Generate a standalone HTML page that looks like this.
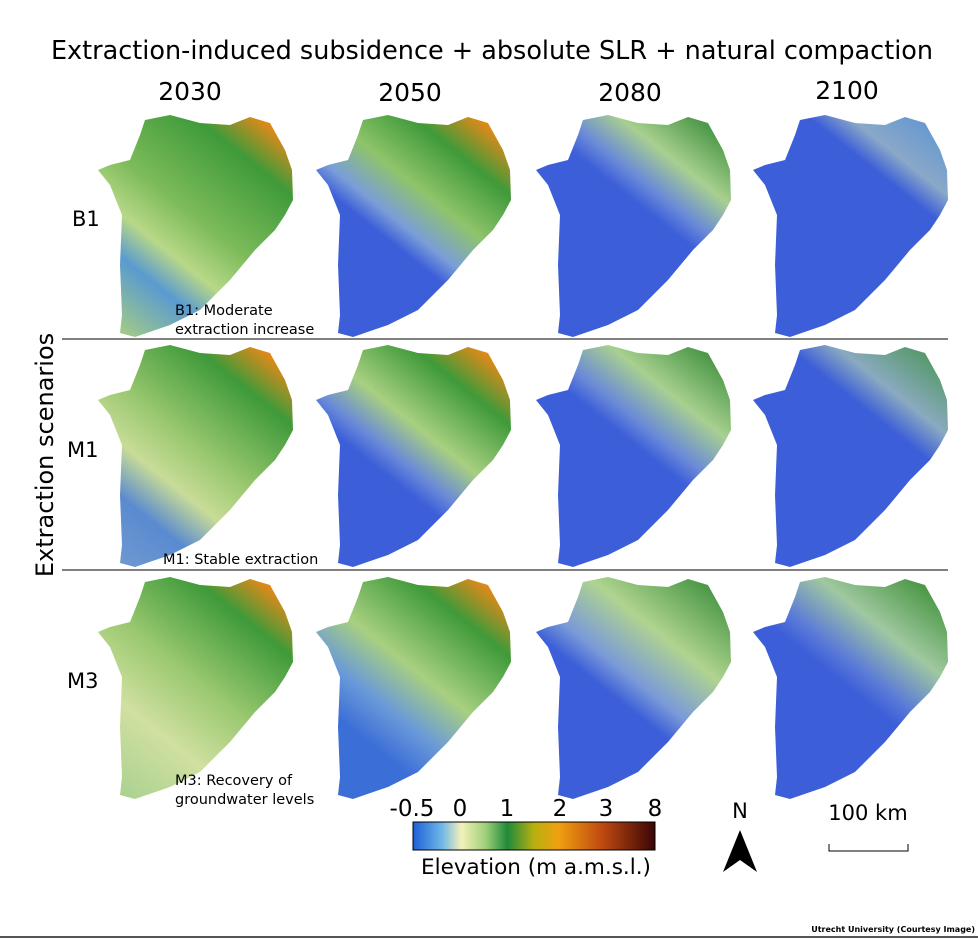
<!DOCTYPE html>
<html><head><meta charset="utf-8"><style>
body{margin:0;background:#fff;}
svg{display:block;font-family:"DejaVu Sans","Liberation Sans",sans-serif;}
</style></head><body>
<svg width="978" height="939" viewBox="0 0 978 939" xmlns="http://www.w3.org/2000/svg">
<defs>
<path id="d" d="M55,5 L80,0 L110,8 L140,10 L160,2 L180,8 L195,35 L202,55 L203,85 L195,100 L185,115 L165,135 L140,165 L110,195 L80,210 L45,222 L30,218 L32,200 L30,150 L32,100 L20,70 L8,55 L20,50 L40,45 L50,20 Z"/>
<linearGradient id="cb" x1="0" x2="1">
<stop offset="0" stop-color="#1f5fd8"/><stop offset="0.12" stop-color="#6fb6e8"/><stop offset="0.2" stop-color="#f3f1b8"/><stop offset="0.3" stop-color="#9fcf7a"/><stop offset="0.39" stop-color="#1f8a3a"/><stop offset="0.5" stop-color="#b8b010"/><stop offset="0.6" stop-color="#f0a010"/><stop offset="0.78" stop-color="#c04a10"/><stop offset="1" stop-color="#3a0505"/>
</linearGradient>
<linearGradient id="g1" x1="0.8" y1="0" x2="0.1" y2="1"><stop offset="0" stop-color="#d98a1a"/><stop offset="0.15" stop-color="#3f9a3a"/><stop offset="0.45" stop-color="#7dbb5a"/><stop offset="0.62" stop-color="#b8d888"/><stop offset="0.75" stop-color="#5a9ad0"/><stop offset="1" stop-color="#a8cf80"/></linearGradient>
<linearGradient id="g2" x1="0.8" y1="0" x2="0.1" y2="1"><stop offset="0" stop-color="#d98a1a"/><stop offset="0.15" stop-color="#3f9a3a"/><stop offset="0.35" stop-color="#8fc46a"/><stop offset="0.5" stop-color="#7a9ed8"/><stop offset="0.58" stop-color="#3c5ed8"/><stop offset="1" stop-color="#3c5ed8"/></linearGradient>
<linearGradient id="g3" x1="0.8" y1="0" x2="0.1" y2="1"><stop offset="0" stop-color="#4f9a4a"/><stop offset="0.18" stop-color="#a8d090"/><stop offset="0.32" stop-color="#6a8ad8"/><stop offset="0.4" stop-color="#3c5ed8"/><stop offset="1" stop-color="#3c5ed8"/></linearGradient>
<linearGradient id="g4" x1="0.8" y1="0" x2="0.1" y2="1"><stop offset="0" stop-color="#6a9ad0"/><stop offset="0.15" stop-color="#8aa8c8"/><stop offset="0.25" stop-color="#3c5ed8"/><stop offset="1" stop-color="#3c5ed8"/></linearGradient>
<linearGradient id="g5" x1="0.8" y1="0" x2="0.1" y2="1"><stop offset="0" stop-color="#d98a1a"/><stop offset="0.15" stop-color="#3f9a3a"/><stop offset="0.45" stop-color="#9ac870"/><stop offset="0.62" stop-color="#c8dc98"/><stop offset="0.78" stop-color="#5a8ad0"/><stop offset="1" stop-color="#6f9ad0"/></linearGradient>
<linearGradient id="g6" x1="0.8" y1="0" x2="0.1" y2="1"><stop offset="0" stop-color="#d98a1a"/><stop offset="0.15" stop-color="#3f9a3a"/><stop offset="0.38" stop-color="#a8d080"/><stop offset="0.52" stop-color="#6a8ad8"/><stop offset="0.6" stop-color="#3c5ed8"/><stop offset="1" stop-color="#3c5ed8"/></linearGradient>
<linearGradient id="g7" x1="0.8" y1="0" x2="0.1" y2="1"><stop offset="0" stop-color="#4f9a4a"/><stop offset="0.2" stop-color="#a8d090"/><stop offset="0.36" stop-color="#6a8ad8"/><stop offset="0.44" stop-color="#3c5ed8"/><stop offset="1" stop-color="#3c5ed8"/></linearGradient>
<linearGradient id="g8" x1="0.8" y1="0" x2="0.1" y2="1"><stop offset="0" stop-color="#5a9a70"/><stop offset="0.18" stop-color="#8aaac0"/><stop offset="0.3" stop-color="#3c5ed8"/><stop offset="1" stop-color="#3c5ed8"/></linearGradient>
<linearGradient id="g9" x1="0.8" y1="0" x2="0.1" y2="1"><stop offset="0" stop-color="#d98a1a"/><stop offset="0.15" stop-color="#3f9a3a"/><stop offset="0.45" stop-color="#9ac870"/><stop offset="0.7" stop-color="#d0e0a0"/><stop offset="1" stop-color="#a8d090"/></linearGradient>
<linearGradient id="g10" x1="0.8" y1="0" x2="0.1" y2="1"><stop offset="0" stop-color="#d98a1a"/><stop offset="0.15" stop-color="#3f9a3a"/><stop offset="0.42" stop-color="#a8d080"/><stop offset="0.6" stop-color="#6a9ad8"/><stop offset="0.75" stop-color="#3c6ed8"/><stop offset="1" stop-color="#3c6ed8"/></linearGradient>
<linearGradient id="g11" x1="0.8" y1="0" x2="0.1" y2="1"><stop offset="0" stop-color="#4f9a4a"/><stop offset="0.25" stop-color="#b0d490"/><stop offset="0.45" stop-color="#7a9ad8"/><stop offset="0.55" stop-color="#3c5ed8"/><stop offset="1" stop-color="#3c5ed8"/></linearGradient>
<linearGradient id="g12" x1="0.8" y1="0" x2="0.1" y2="1"><stop offset="0" stop-color="#4f9a4a"/><stop offset="0.22" stop-color="#a0c8a0"/><stop offset="0.4" stop-color="#5a7ad8"/><stop offset="0.48" stop-color="#3c5ed8"/><stop offset="1" stop-color="#3c5ed8"/></linearGradient>
</defs>
<text x="492" y="59" font-size="25.5" text-anchor="middle">Extraction-induced subsidence + absolute SLR + natural compaction</text>
<g font-size="25" text-anchor="middle"><text x="190" y="100">2030</text><text x="410" y="101">2050</text><text x="630" y="101">2080</text><text x="847" y="99">2100</text></g>
<g font-size="21"><text x="72" y="226">B1</text><text x="67" y="457">M1</text><text x="67" y="688">M3</text></g>
<text transform="translate(53,455) rotate(-90)" font-size="24" text-anchor="middle">Extraction scenarios</text>
<line x1="62" y1="339" x2="948" y2="339" stroke="#000" stroke-width="1"/>
<line x1="62" y1="570" x2="948" y2="570" stroke="#000" stroke-width="1"/>
<g>
<use href="#d" x="90" y="115" fill="url(#g1)"/><use href="#d" x="308" y="115" fill="url(#g2)"/><use href="#d" x="528" y="115" fill="url(#g3)"/><use href="#d" x="745" y="115" fill="url(#g4)"/>
<use href="#d" x="90" y="345" fill="url(#g5)"/><use href="#d" x="308" y="345" fill="url(#g6)"/><use href="#d" x="528" y="345" fill="url(#g7)"/><use href="#d" x="745" y="345" fill="url(#g8)"/>
<use href="#d" x="90" y="577" fill="url(#g9)"/><use href="#d" x="308" y="577" fill="url(#g10)"/><use href="#d" x="528" y="577" fill="url(#g11)"/><use href="#d" x="745" y="577" fill="url(#g12)"/>
</g>
<g font-size="14.5"><text x="175" y="315">B1: Moderate</text><text x="175" y="334">extraction increase</text><text x="163" y="564">M1: Stable extraction</text><text x="175" y="785">M3: Recovery of</text><text x="175" y="804">groundwater levels</text></g>
<rect x="413" y="822" width="242" height="28" fill="url(#cb)" stroke="#000" stroke-width="1"/>
<g font-size="23" text-anchor="middle"><text x="412" y="816">-0.5</text><text x="460" y="816">0</text><text x="507" y="816">1</text><text x="560" y="816">2</text><text x="606" y="816">3</text><text x="655" y="816">8</text></g>
<text x="536" y="874" font-size="21.5" text-anchor="middle">Elevation (m a.m.s.l.)</text>
<text x="740" y="818" font-size="21" text-anchor="middle">N</text>
<polygon points="740,830 723,872 740,860 757,872" fill="#000"/>
<text x="868" y="820" font-size="21" text-anchor="middle">100 km</text>
<path d="M829,844 V851 H908 V844" fill="none" stroke="#000" stroke-width="1"/>
<text x="975" y="932" font-size="8" font-weight="bold" text-anchor="end">Utrecht University (Courtesy Image)</text>
<line x1="0" y1="937" x2="978" y2="937" stroke="#555" stroke-width="2"/>
</svg>
</body></html>
